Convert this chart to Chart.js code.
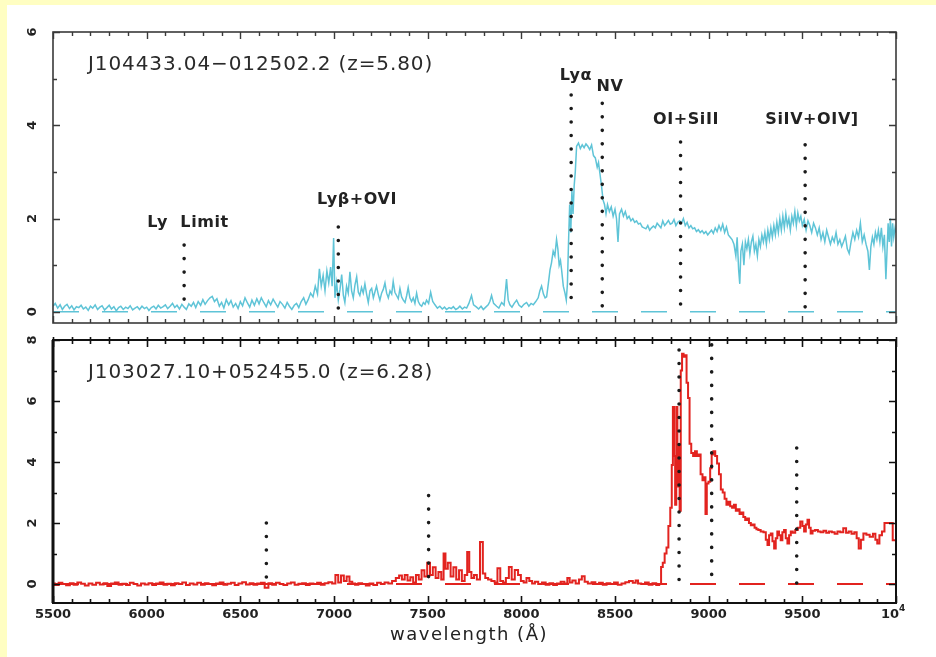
<!DOCTYPE html>
<html>
<head>
<meta charset="utf-8">
<script src="https://cdn.jsdelivr.net/npm/chart.js@4.4.1/dist/chart.umd.min.js"></script>
<style>
  html, body { margin: 0; padding: 0; background: #fffec2; }
  #page { position: relative; width: 936px; height: 657px; overflow: hidden; background: #fffec2; }
  #sheet { position: absolute; left: 7px; top: 5px; width: 929px; height: 652px; background: #ffffff; }
  canvas { position: absolute; left: 0; }
  #topChart { top: 0; width: 936px; height: 330px; }
  #botChart { top: 330px; width: 936px; height: 327px; }
</style>
</head>
<body>
<div id="page">
  <div id="sheet"></div>
  <canvas id="topChart" width="936" height="330"></canvas>
  <canvas id="botChart" width="936" height="327"></canvas>
</div>
<script>
// ---- J104433.04-012502.2 (z=5.80): wavelength (Angstrom) and flux ----
const topWave = [
  5500,5512,5525,5538,5550,5562,5575,5588,5600,5612,
  5625,5638,5650,5662,5675,5688,5700,5712,5725,5738,
  5750,5762,5775,5788,5800,5812,5825,5838,5850,5862,
  5875,5888,5900,5912,5925,5938,5950,5962,5975,5988,
  6000,6012,6025,6038,6050,6062,6075,6088,6100,6112,
  6125,6138,6150,6162,6175,6188,6200,6212,6225,6238,
  6250,6262,6275,6288,6300,6312,6325,6338,6350,6362,
  6375,6388,6400,6412,6425,6438,6450,6462,6475,6488,
  6500,6512,6525,6538,6550,6562,6575,6588,6600,6612,
  6625,6638,6650,6662,6675,6688,6700,6712,6725,6738,
  6750,6762,6775,6788,6800,6812,6825,6838,6850,6862,
  6875,6888,6900,6912,6922,6932,6942,6952,6962,6972,
  6982,6990,6998,7005,7014,7023,7032,7041,7050,7058,
  7067,7076,7085,7094,7103,7112,7121,7130,7138,7147,
  7156,7165,7174,7183,7192,7201,7210,7218,7227,7236,
  7245,7254,7263,7272,7281,7290,7299,7308,7316,7325,
  7334,7343,7352,7361,7370,7379,7388,7396,7405,7414,
  7423,7432,7441,7450,7459,7468,7477,7486,7494,7505,
  7516,7527,7539,7552,7565,7578,7590,7601,7614,7626,
  7637,7650,7662,7672,7685,7697,7708,7720,7734,7745,
  7761,7772,7785,7797,7810,7823,7832,7841,7852,7868,
  7880,7895,7908,7921,7930,7939,7950,7962,7975,7988,
  8001,8014,8028,8040,8052,8064,8077,8090,8099,8108,
  8118,8127,8135,8144,8153,8161,8170,8179,8188,8195,
  8202,8209,8215,8224,8233,8240,8246,8252,8258,8264,
  8270,8276,8282,8288,8295,8305,8315,8325,8335,8345,
  8355,8365,8375,8385,8395,8405,8412,8420,8428,8436,
  8444,8452,8460,8470,8480,8490,8500,8508,8516,8524,
  8535,8545,8555,8565,8575,8585,8595,8605,8615,8625,
  8635,8645,8655,8665,8675,8685,8695,8705,8715,8725,
  8735,8745,8755,8765,8775,8785,8795,8805,8815,8825,
  8835,8845,8855,8865,8875,8885,8895,8905,8915,8925,
  8935,8945,8955,8965,8975,8985,8995,9005,9015,9025,
  9035,9045,9055,9065,9075,9085,9095,9105,9115,9125,
  9135,9145,9152,9160,9166,9172,9180,9188,9196,9204,
  9212,9220,9228,9236,9244,9252,9260,9268,9276,9284,
  9292,9300,9308,9316,9324,9332,9340,9348,9356,9364,
  9372,9380,9388,9396,9404,9412,9420,9428,9436,9444,
  9452,9460,9468,9476,9484,9492,9500,9510,9520,9530,
  9540,9550,9560,9570,9580,9590,9600,9610,9620,9630,
  9640,9650,9660,9670,9680,9690,9700,9710,9720,9730,
  9740,9750,9760,9770,9780,9790,9800,9810,9820,9830,
  9840,9850,9858,9866,9874,9882,9890,9898,9906,9914,
  9922,9930,9938,9946,9952,9958,9964,9970,9976,9982,
  9988,9995,10000
];
const topFlux = [
  .12,.18,.08,.15,.05,.12,.16,.07,.13,.04,
  .11,.09,.14,.06,.10,.03,.12,.08,.15,.05,
  .10,.13,.04,.09,.14,.06,.11,.02,.09,.12,
  .05,.10,.07,.13,.04,.08,.11,.05,.12,.07,
  .10,.03,.09,.12,.06,.14,.08,.11,.15,.07,
  .12,.18,.09,.14,.06,.16,.10,.05,.17,.12,
  .20,.09,.22,.14,.26,.16,.24,.30,.33,.22,
  .28,.12,.20,.08,.26,.15,.24,.10,.18,.07,
  .22,.13,.30,.19,.10,.25,.14,.28,.17,.30,
  .20,.11,.24,.15,.27,.18,.10,.22,.16,.08,
  .20,.12,.05,.14,.18,.09,.22,.30,.16,.26,
  .40,.32,.55,.38,.92,.55,.78,.45,.88,.62,
  .96,.55,1.58,.30,.62,.25,.48,.80,.35,.20,
  .55,.40,.86,.45,.30,.58,.75,.42,.35,.52,
  .40,.60,.38,.20,.45,.50,.30,.42,.55,.38,
  .25,.40,.48,.62,.40,.30,.45,.38,.65,.42,
  .35,.28,.50,.32,.25,.20,.35,.52,.30,.22,
  .30,.18,.40,.22,.15,.12,.20,.16,.25,.18,
  .42,.22,.15,.08,.12,.06,.10,.05,.09,.07,
  .11,.05,.08,.12,.06,.10,.08,.18,.35,.15,
  .10,.06,.12,.05,.10,.15,.22,.35,.18,.12,
  .08,.20,.14,.70,.25,.15,.10,.18,.25,.14,
  .10,.16,.20,.12,.18,.15,.22,.30,.45,.55,
  .38,.30,.32,.60,.90,1.05,1.30,1.20,1.55,1.35,
  1.00,1.10,.90,.55,.40,.25,.60,1.50,2.30,1.70,
  2.60,2.10,2.70,3.00,3.55,3.62,3.50,3.58,3.52,3.60,
  3.55,3.48,3.58,3.35,3.30,3.10,3.20,2.95,2.70,2.40,
  2.30,2.10,2.30,2.15,2.25,2.05,2.20,2.00,1.50,2.10,
  2.20,2.05,2.15,2.00,2.05,1.95,2.00,1.92,1.95,1.88,
  1.90,1.82,1.80,1.78,1.85,1.75,1.80,1.84,1.80,1.90,
  1.85,1.80,1.95,1.85,1.90,1.96,1.88,1.90,1.98,1.85,
  1.92,1.95,1.90,2.00,1.85,1.92,1.80,1.85,1.78,1.80,
  1.72,1.76,1.70,1.74,1.68,1.72,1.65,1.70,1.75,1.68,
  1.80,1.72,1.85,1.75,1.88,1.70,1.82,1.65,1.60,1.55,
  1.45,1.20,1.60,.90,.60,1.30,1.45,1.00,1.50,1.35,
  1.55,1.25,1.50,1.62,1.30,1.45,1.20,1.55,1.40,1.65,
  1.50,1.70,1.45,1.75,1.55,1.80,1.60,1.85,1.65,1.92,
  1.70,2.00,1.75,2.05,1.80,2.10,1.85,2.00,1.75,2.05,
  1.90,2.15,1.85,2.12,1.95,2.05,1.85,1.98,1.75,1.95,
  1.85,1.70,1.90,1.80,1.65,1.80,1.55,1.70,1.50,1.75,
  1.60,1.45,1.60,1.50,1.70,1.45,1.55,1.40,1.50,1.62,
  1.35,1.25,1.50,1.70,1.55,1.75,1.60,1.90,1.50,1.65,
  1.45,1.30,.90,1.40,1.60,1.45,1.70,1.55,1.75,1.50,
  1.80,1.40,1.65,.70,1.30,1.90,1.50,2.00,1.40,1.90,
  1.60,1.80,1.70
];

// ---- J103027.10+052455.0 (z=6.28): wavelength (Angstrom) and flux ----
const botWave = [
  5500,5520,5540,5560,5580,5600,5620,5640,5660,5680,
  5700,5720,5740,5760,5780,5800,5820,5840,5860,5880,
  5900,5920,5940,5960,5980,6000,6020,6040,6060,6080,
  6100,6120,6140,6160,6180,6200,6220,6240,6260,6280,
  6300,6320,6340,6360,6380,6400,6420,6440,6460,6480,
  6500,6520,6540,6560,6580,6600,6620,6640,6660,6680,
  6700,6720,6740,6760,6780,6800,6820,6840,6860,6880,
  6900,6920,6940,6960,6980,7000,7015,7030,7045,7060,
  7075,7090,7105,7120,7140,7160,7180,7200,7220,7240,
  7260,7280,7300,7320,7340,7355,7370,7385,7400,7415,
  7430,7445,7460,7475,7490,7505,7520,7535,7550,7565,
  7580,7590,7600,7615,7630,7645,7660,7675,7690,7705,
  7717,7727,7740,7755,7770,7789,7800,7815,7830,7850,
  7865,7880,7895,7910,7925,7942,7955,7975,7990,8005,
  8020,8035,8050,8065,8080,8100,8120,8140,8160,8180,
  8200,8220,8240,8251,8265,8280,8300,8315,8331,8345,
  8365,8385,8405,8425,8445,8465,8485,8505,8525,8545,
  8565,8585,8605,8616,8630,8650,8670,8690,8710,8730,
  8742,8750,8760,8770,8780,8790,8800,8806,8812,8818,
  8824,8830,8836,8842,8848,8854,8862,8870,8878,8886,
  8894,8902,8912,8922,8932,8942,8952,8962,8972,8980,
  8986,8994,9004,9012,9020,9030,9040,9050,9060,9070,
  9080,9090,9100,9110,9120,9130,9140,9150,9160,9170,
  9180,9190,9200,9210,9220,9230,9240,9250,9260,9270,
  9285,9300,9310,9318,9327,9336,9345,9354,9362,9371,
  9380,9389,9398,9407,9416,9425,9434,9443,9455,9469,
  9482,9496,9505,9514,9523,9532,9540,9549,9560,9576,
  9590,9605,9620,9635,9650,9665,9680,9695,9710,9727,
  9740,9755,9770,9785,9795,9807,9818,9834,9850,9869,
  9885,9895,9905,9918,9932,9945,9960,9975,9990,10000
];
const botFlux = [
  .02,-.03,.04,0,-.04,.03,-.02,.05,.01,-.05,
  .02,-.02,.04,-.01,.03,-.06,.02,.05,-.02,.01,
  -.03,.04,0,-.05,.02,-.01,.03,-.03,.02,.05,
  -.02,.01,-.04,.03,0,.05,-.03,.02,-.01,.04,
  -.02,.03,0,-.04,.02,.05,-.02,.01,.04,-.03,
  .02,.06,-.01,.03,-.02,.02,.04,-.12,.03,-.02,
  .04,0,-.03,.02,.05,-.02,.01,.03,-.03,.02,
  0,.04,-.02,.03,.06,.02,.30,.05,.28,.10,
  .25,.08,.02,-.02,.03,0,-.05,.02,-.03,.04,
  0,.05,.02,.10,.20,.28,.15,.30,.12,.22,
  .05,.30,.15,.45,.25,.70,.30,.55,.20,.40,
  .15,1.00,.50,.70,.25,.55,.15,.45,.10,.30,
  1.05,.40,.20,.30,.15,1.38,.35,.20,.15,.10,
  .05,.52,.10,.05,.20,.56,.15,.46,.30,.10,
  .05,.20,.10,.02,.08,0,.05,-.02,.03,-.03,
  .02,.08,.02,.20,.05,.12,.02,.15,.26,.08,
  .02,.06,0,.04,-.02,.03,0,.05,-.02,.02,
  .06,.10,.04,.12,.02,0,.05,-.02,.03,-.03,
  0,.56,.70,1.00,1.20,1.90,2.50,3.90,5.80,4.20,
  2.60,5.80,3.20,4.50,2.40,7.00,7.55,7.45,7.50,6.60,
  6.10,4.60,4.30,4.20,4.35,4.20,4.25,3.60,3.40,3.50,
  2.30,3.30,3.35,3.80,4.25,4.35,4.20,3.95,3.60,3.10,
  3.00,2.80,2.60,2.70,2.55,2.50,2.60,2.40,2.45,2.30,
  2.35,2.20,2.10,2.15,2.00,1.93,1.95,1.85,1.80,1.77,
  1.72,1.70,1.45,1.28,1.60,1.66,1.40,1.17,1.50,1.72,
  1.60,1.44,1.70,1.77,1.50,1.33,1.60,1.72,1.68,1.77,
  1.85,2.05,1.90,1.72,1.95,2.11,1.85,1.66,1.75,1.77,
  1.72,1.70,1.75,1.68,1.72,1.70,1.65,1.72,1.70,1.83,
  1.68,1.72,1.65,1.70,1.50,1.17,1.45,1.66,1.62,1.55,
  1.65,1.45,1.33,1.60,1.72,2.00,2.00,2.00,1.44,1.44
];

// ---- emission-line markers (wavelength, top and foot of the dotted line) ----
const topLineWave  = [6200, 7023, 8266, 8432, 8850, 9515];
const topLineTop   = [1.43, 1.82, 4.65, 4.47, 3.64, 3.58];
const topLineFoot  = [0, 0, 0.05, -0.05, 0, 0];
const topLineNames = ['Ly  Limit', 'Lyβ+OVI', 'Lyα', 'NV', 'OI+SiII', 'SiIV+OIV]'];

const botLineWave  = [6639, 7505, 8842, 9016, 9470];
const botLineTop   = [2.0, 2.9, 7.67, 7.84, 4.46];
const botLineFoot  = [0, 0, -0.2, -0.03, -0.2];

// ---- axis ticks ----
const xTickValues = [5500, 6000, 6500, 7000, 7500, 8000, 8500, 9000, 9500, 10000];
const xTickLabels = ['5500', '6000', '6500', '7000', '7500', '8000', '8500', '9000', '9500', '10'];
const xTickExponent = ['', '', '', '', '', '', '', '', '', '4'];
const topYTicks = [0, 2, 4, 6];
const botYTicks = [0, 2, 4, 6, 8];

const topTitle = 'J104433.04\u2212012502.2 (z=5.80)';
const botTitle = 'J103027.10+052455.0 (z=6.28)';
const xTitle = 'wavelength (\u00C5)';

// label anchors (data coordinates) for the line names of the upper panel
const topNameAnchor = [
  {x: 6221, y: 1.90}, {x: 7123, y: 2.40}, {x: 8292, y: 5.05},
  {x: 8473, y: 4.82}, {x: 8879, y: 4.11}, {x: 9552, y: 4.11}
];

const CYAN = '#5fc4d7';
const RED = '#e2231f';
const FONT = '"DejaVu Sans", Verdana, sans-serif';

function pts(xs, ys) { return xs.map((v, i) => ({x: v, y: ys[i]})); }

function markerSets(waves, tops, feet) {
  return waves.map((w, i) => ({
    data: [{x: w, y: tops[i]}, {x: w, y: feet[i]}],
    borderColor: '#1a1a1a', borderWidth: 3.6, borderDash: [0, 13.5],
    borderCapStyle: 'round', pointRadius: 0, order: 0
  }));
}

function decor(cfg) {
  return {
    id: 'panelDecor',
    afterDatasetsDraw(chart) {
      const {ctx, chartArea: a} = chart;
      const x = chart.scales.x, y = chart.scales.y;
      ctx.save();
      // minor / major ticks
      ctx.strokeStyle = cfg.frameColor;
      ctx.lineWidth = cfg.tickWidth;
      ctx.beginPath();
      for (let v = x.min; v <= x.max; v += 100) {
        const px = Math.round(x.getPixelForValue(v)) + 0.5;
        const len = v % 500 === 0 ? 7 : 4;
        ctx.moveTo(px, a.bottom); ctx.lineTo(px, a.bottom - len);
        ctx.moveTo(px, a.top - (cfg.crossTop ? 3 : 0)); ctx.lineTo(px, a.top + len);
      }
      for (let v = Math.ceil(y.min); v <= y.max; v += 1) {
        const py = Math.round(y.getPixelForValue(v)) + 0.5;
        const len = v % 2 === 0 ? 7 : 4;
        ctx.moveTo(a.left, py); ctx.lineTo(a.left + len, py);
        ctx.moveTo(a.right, py); ctx.lineTo(a.right - len, py);
      }
      ctx.stroke();
      // frame
      ctx.lineWidth = cfg.frameWidth;
      ctx.strokeRect(a.left, a.top, a.right - a.left, a.bottom - a.top);
      if (cfg.leftWidth) {
        ctx.lineWidth = cfg.leftWidth;
        ctx.beginPath(); ctx.moveTo(a.left, a.top); ctx.lineTo(a.left, a.bottom); ctx.stroke();
      }

      ctx.fillStyle = '#222';
      // rotated y tick labels
      ctx.font = 'bold 13px ' + FONT;
      ctx.textAlign = 'center';
      ctx.textBaseline = 'middle';
      cfg.yTicks.forEach(v => {
        ctx.save();
        ctx.translate(33, y.getPixelForValue(v));
        ctx.rotate(-Math.PI / 2);
        ctx.fillText(String(v), 0, 0);
        ctx.restore();
      });

      // object title
      ctx.font = '20px ' + FONT;
      ctx.letterSpacing = '0.9px';
      ctx.textAlign = 'left';
      ctx.fillStyle = '#2a2a2a';
      ctx.fillText(cfg.title, 88, cfg.titleY);
      ctx.fillStyle = '#222';

      // line names
      if (cfg.names) {
        ctx.font = 'bold 16px ' + FONT;
        ctx.letterSpacing = '0.6px';
        ctx.textAlign = 'center';
        cfg.names.forEach((n, i) => {
          const an = cfg.anchors[i];
          ctx.fillText(n, x.getPixelForValue(an.x), y.getPixelForValue(an.y));
        });
      }

      // wavelength axis labels
      if (cfg.xLabels) {
        ctx.letterSpacing = '0px';
        ctx.font = 'bold 13px ' + FONT;
        xTickValues.forEach((v, i) => {
          const px = x.getPixelForValue(v);
          if (xTickExponent[i]) {
            ctx.textAlign = 'right';
            ctx.fillText(xTickLabels[i], px + 3, cfg.xLabelY);
            ctx.font = 'bold 9px ' + FONT;
            ctx.textAlign = 'left';
            ctx.fillText(xTickExponent[i], px + 3, cfg.xLabelY - 6);
            ctx.font = 'bold 13px ' + FONT;
          } else {
            ctx.textAlign = 'center';
            ctx.fillText(xTickLabels[i], px, cfg.xLabelY);
          }
        });
        ctx.font = '18px ' + FONT;
        ctx.letterSpacing = '1.5px';
        ctx.textAlign = 'center';
        ctx.fillText(xTitle, 469, cfg.xTitleY);
      }
      ctx.restore();
    }
  };
}

function baseOptions(yMin, yMax, padding) {
  return {
    responsive: false,
    animation: false,
    events: [],
    layout: {padding},
    plugins: {legend: {display: false}, tooltip: {enabled: false}},
    scales: {
      x: {type: 'linear', min: 5500, max: 10000, display: false},
      y: {type: 'linear', min: yMin, max: yMax, display: false}
    }
  };
}

new Chart(document.getElementById('topChart'), {
  type: 'line',
  data: {
    datasets: [
      ...markerSets(topLineWave, topLineTop, topLineFoot),
      {data: pts(topWave, topFlux), borderColor: CYAN, borderWidth: 1.5,
       pointRadius: 0, tension: 0, order: 1},
      {data: [{x: 5500, y: 0}, {x: 10000, y: 0}], borderColor: CYAN, borderWidth: 1.6,
       borderDash: [26, 23], pointRadius: 0, order: 2}
    ]
  },
  options: baseOptions(-0.24, 6, {left: 53, top: 32, right: 40, bottom: 7}),
  plugins: [decor({
    frameColor: '#3a3a3a', frameWidth: 1.6, tickWidth: 1.4, crossTop: false,
    yTicks: topYTicks, title: topTitle, titleY: 65,
    names: topLineNames, anchors: topNameAnchor
  })]
});

new Chart(document.getElementById('botChart'), {
  type: 'line',
  data: {
    datasets: [
      ...markerSets(botLineWave, botLineTop, botLineFoot),
      {data: pts(botWave, botFlux), borderColor: RED, borderWidth: 2,
       pointRadius: 0, stepped: 'middle', order: 1},
      {data: [{x: 5500, y: 0}, {x: 10000, y: 0}], borderColor: RED, borderWidth: 2,
       borderDash: [26, 23], pointRadius: 0, order: 2}
    ]
  },
  options: baseOptions(-0.62, 8, {left: 53, top: 10, right: 40, bottom: 54}),
  plugins: [decor({
    frameColor: '#111', frameWidth: 2, leftWidth: 3, tickWidth: 1.6, crossTop: true,
    yTicks: botYTicks, title: botTitle, titleY: 43,
    xLabels: true, xLabelY: 285, xTitleY: 305
  })]
});
</script>
</body>
</html>
